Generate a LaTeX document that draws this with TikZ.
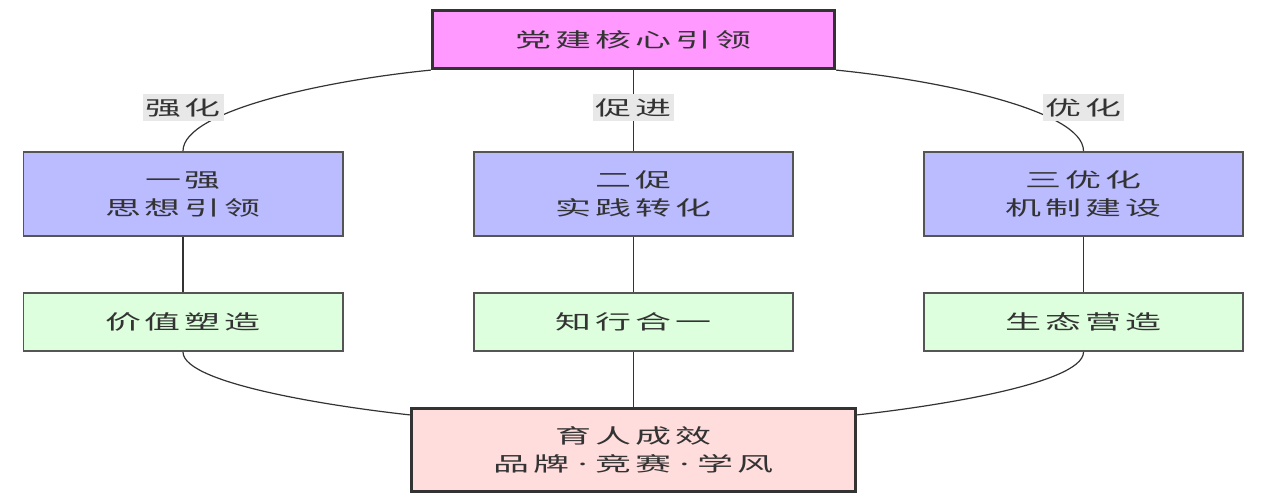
\documentclass[tikz,border=0pt]{standalone}
\usepackage{fontspec}
\newfontfamily\cjk[FakeStretch=1.8,LetterSpace=20]{Noto Sans CJK SC}
\newfontfamily\latin[FakeStretch=1.8]{Noto Sans}
\newcommand\middot{{\latin\hspace{4pt}·\hspace{4pt}}}
\usetikzlibrary{calc}
\definecolor{ink}{HTML}{333333}
\definecolor{frame}{HTML}{555555}
\definecolor{corefill}{HTML}{FF99FF}
\definecolor{pillarfill}{HTML}{BBBBFF}
\definecolor{resultfill}{HTML}{DDFFDD}
\definecolor{outfill}{HTML}{FFDDDD}
\definecolor{lblfill}{HTML}{E8E8E8}
\begin{document}
\begin{tikzpicture}[x=0.5pt,y=-0.5pt,
    txt/.style={text=ink,font=\cjk\fontsize{10}{14}\selectfont,align=center},
    pillar/.style={txt,draw=frame,line width=0.8pt,fill=pillarfill,minimum width=159.7pt,minimum height=42.2pt},
    result/.style={txt,draw=frame,line width=0.8pt,fill=resultfill,minimum width=159.7pt,minimum height=29.2pt},
    lbl/.style={txt,fill=lblfill,inner sep=0pt,minimum width=40.5pt,minimum height=13.5pt},
    wire/.style={draw=ink,line width=0.9pt},
    curvewire/.style={draw=ink,line width=0.6pt}]
  % columns
  \def\colA{183}  \def\colB{633.5}  \def\colC{1083.5}
  \useasboundingbox (0,0) rectangle (1268,502);

  % top and bottom
  \node[txt,draw=ink,line width=1.6pt,fill=corefill,minimum width=201pt,minimum height=29pt] (core) at (\colB,39.5) {党建核心引领};
  \node[txt,draw=ink,line width=1.6pt,fill=outfill,minimum width=222pt,minimum height=41.5pt] (outcome) at (\colB,450) {育人成效\\品牌\middot 竞赛\middot 学风};

  % middle row
  \node[pillar] (p1) at (\colA,194) {一强\\思想引领};
  \node[pillar] (p2) at (\colB,194) {二促\\实践转化};
  \node[pillar] (p3) at (\colC,194) {三优化\\机制建设};

  % results
  \node[result] (r1) at (\colA,322) {价值塑造};
  \node[result] (r2) at (\colB,322) {知行合一};
  \node[result] (r3) at (\colC,322) {生态营造};

  % links
  \draw[curvewire] (core.south west) .. controls (330,80) and (\colA,110) .. (p1.north);
  \draw[wire] (core.south) -- (p2.north);
  \draw[curvewire] (core.south east) .. controls (937,80) and (\colC,110) .. (p3.north);
  \draw[wire] (p1) -- (r1);
  \draw[wire] (p2) -- (r2);
  \draw[wire] (p3) -- (r3);
  \draw[curvewire] (r1.south) .. controls (\colA,385) and (346,408) .. ($(outcome.north west)+(0,8)$);
  \draw[wire] (r2.south) -- (outcome.north);
  \draw[curvewire] (r3.south) .. controls (\colC,385) and (921,408) .. ($(outcome.north east)+(0,8)$);

  % edge labels
  \node[lbl] (l1) at (\colA,108) {强化};
  \node[lbl] (l2) at (\colB,108) {促进};
  \node[lbl] (l3) at (\colC,108) {优化};
\end{tikzpicture}
\end{document}
